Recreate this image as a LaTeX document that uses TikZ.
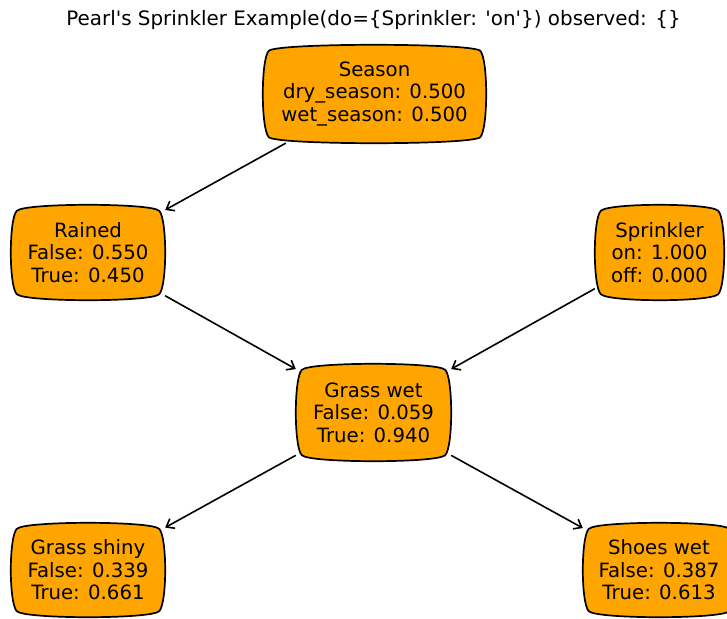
\documentclass[tikz,border=0pt]{standalone}
\usepackage{fontspec}
\newfontfamily\dvfont{DejaVu Sans}
\usetikzlibrary{calc,backgrounds,arrows.meta}
\definecolor{mplorange}{RGB}{255,165,0}
\tikzset{
  bn/.style={rectangle, draw=none, inner sep=0pt, align=center,
    font=\dvfont\fontsize{19.7}{22.5}\selectfont},
  blobline/.style={draw=black, fill=mplorange, line width=1.7pt},
  conn/.style={draw=black, line width=1.6pt, -{Straight Barb[length=7pt,width=11pt,line width=1.6pt]}},
}
\newcommand{\myblob}[1]{%
  \path[blobline]
    ($(#1.north west)+(6,6)$) coordinate (tl)
    ($(#1.north east)+(-6,6)$) coordinate (tr)
    ($(#1.south east)+(-6,-6)$) coordinate (br)
    ($(#1.south west)+(6,-6)$) coordinate (bl)
    (tl) .. controls ($(tl)+(8,-8)$) and ($(tr)+(-8,-8)$) .. (tr)
         .. controls ($(tr)+(8,8)$) and ($(br)+(8,-8)$) .. (br)
         .. controls ($(br)+(-8,8)$) and ($(bl)+(8,8)$) .. (bl)
         .. controls ($(bl)+(-8,-8)$) and ($(tl)+(-8,8)$) .. (tl) -- cycle;}
\begin{document}
\begin{tikzpicture}[x=1pt,y=-1pt]
\useasboundingbox (0,0) rectangle (727,618);
\clip (0,0) rectangle (727,618);
\node[font=\dvfont\fontsize{19.9}{22}\selectfont] (title) at (373.5,20) {Pearl's Sprinkler Example(do=\{Sprinkler: 'on'\}) observed: \{\}};
\node[bn, minimum width=223pt, minimum height=98pt] (season) at (374.5,94) {Season\\dry\_season: 0.500\\wet\_season: 0.500};
\node[bn, minimum width=154pt, minimum height=95pt] (rained) at (88,252.5) {Rained\\False: 0.550\\True: 0.450};
\node[bn, minimum width=129pt, minimum height=95pt] (sprinkler) at (659.5,252.5) {Sprinkler\\on: 1.000\\off: 0.000};
\node[bn, minimum width=155pt, minimum height=97pt] (grasswet) at (373.5,412.5) {Grass wet\\False: 0.059\\True: 0.940};
\node[bn, minimum width=154pt, minimum height=94pt] (grassshiny) at (88,570) {Grass shiny\\False: 0.339\\True: 0.661};
\node[bn, minimum width=152pt, minimum height=94pt] (shoeswet) at (659,570) {Shoes wet\\False: 0.387\\True: 0.613};
\begin{scope}[on background layer]
\myblob{season}
\myblob{rained}
\myblob{sprinkler}
\myblob{grasswet}
\myblob{grassshiny}
\myblob{shoeswet}
\end{scope}
\draw[conn] (season) -- (rained);
\draw[conn] (rained) -- (grasswet);
\draw[conn] (sprinkler) -- (grasswet);
\draw[conn] (grasswet) -- (grassshiny);
\draw[conn] (grasswet) -- (shoeswet);
\end{tikzpicture}
\end{document}
